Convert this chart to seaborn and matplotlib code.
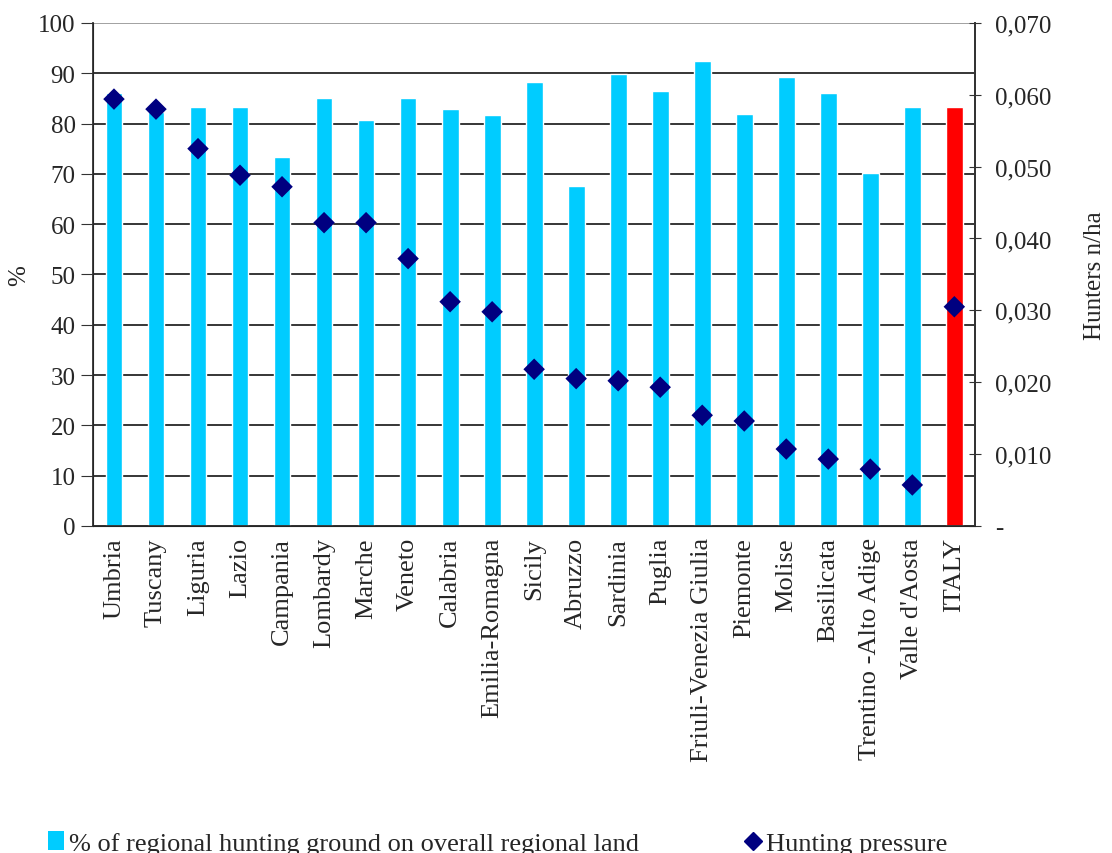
import numpy as np
import pandas as pd
import matplotlib
matplotlib.use('Agg')
import matplotlib.pyplot as plt
from matplotlib.lines import Line2D
from matplotlib.patches import Patch
import seaborn as sns

regions = ['Umbria', 'Tuscany', 'Liguria', 'Lazio', 'Campania', 'Lombardy', 'Marche',
           'Veneto', 'Calabria', 'Emilia-Romagna', 'Sicily', 'Abruzzo', 'Sardinia',
           'Puglia', 'Friuli-Venezia Giulia', 'Piemonte', 'Molise', 'Basilicata',
           'Trentino -Alto Adige', "Valle d'Aosta", 'ITALY']
ground_pct = [86.1, 82.3, 83.3, 83.3, 73.4, 85.1, 80.7, 85.1, 82.9, 81.7, 88.3,
              67.6, 89.9, 86.5, 92.4, 81.9, 89.3, 86.1, 70.2, 83.3, 83.3]
pressure = [0.0594, 0.0580, 0.0525, 0.0488, 0.0472, 0.0422, 0.0422, 0.0372, 0.0312,
            0.0298, 0.0218, 0.0205, 0.0202, 0.0193, 0.0154, 0.0146, 0.0107, 0.0093,
            0.0079, 0.0057, 0.0305]
right_ticks = [0, 0.01, 0.02, 0.03, 0.04, 0.05, 0.06, 0.07]
right_labels = ['-', '0,010', '0,020', '0,030', '0,040', '0,050', '0,060', '0,070']

df = pd.DataFrame({'region': regions, 'pct': ground_pct, 'hp': pressure})
colors = ['#00CCFF'] * (len(regions) - 1) + ['#FF0000']

sns.set_style('white')
plt.rcParams['font.family'] = ['Liberation Serif', 'DejaVu Serif']
plt.rcParams['font.size'] = 17

fig = plt.figure(figsize=(11.12, 8.54), dpi=100)
ax = fig.add_axes([0.0836, 0.383, 0.7935, 0.589])

ax.set_axisbelow(True)
ax.grid(axis='y', color='black', linewidth=1.1)
sns.barplot(data=df, x='region', y='pct', hue='region', palette=colors, legend=False,
            width=0.4, saturation=1, ax=ax)
ax.set_ylim(0, 100)
ax.set_yticks(np.arange(0, 101, 10))
ax.set_xlim(-0.5, len(regions) - 0.5)
ax.set_xlabel('')
ax.set_ylabel('%', fontsize=18, labelpad=6)
ax.tick_params(axis='x', which='major', length=0, labelrotation=90, labelsize=19, pad=8)
ax.set_xticks(np.arange(-0.5, len(regions)), minor=True)
ax.tick_params(axis='x', which='minor', length=8, color='#555555', direction='out')
ax.tick_params(axis='y', length=9, color='#333333', direction='out', labelsize=18)
ax.spines['top'].set_visible(False)
for s in ['left', 'bottom', 'right']:
    ax.spines[s].set_color('#333333')
    ax.spines[s].set_linewidth(1.3)
ax.get_ygridlines()[-1].set_color('#888888')

ax2 = ax.twinx()
sns.scatterplot(data=df, x='region', y='hp', marker='D', s=120, color='#000080',
                edgecolor='none', ax=ax2, zorder=5)
ax2.set_ylim(0, 0.07)
ax2.set_yticks(right_ticks)
ax2.set_yticklabels(right_labels)
ax2.set_ylabel('Hunters n/ha', fontsize=18, labelpad=24)
ax2.tick_params(axis='y', length=8, direction='inout', color='#333333', labelsize=18, pad=10)
ax2.spines['top'].set_visible(False)
ax2.spines['right'].set_color('#333333')
ax2.spines['right'].set_linewidth(1.3)
ax2.set_xlim(-0.5, len(regions) - 0.5)

handles = [Patch(facecolor='#00CCFF', edgecolor='none'),
           Line2D([], [], marker='D', color='#000080', linestyle='none', markersize=9)]
labels = ['% of regional hunting ground on overall regional land', 'Hunting pressure']
fig.legend(handles, labels, loc='lower left', bbox_to_anchor=(0.022, -0.03), ncol=2,
           frameon=False, fontsize=19, handlelength=0.6, handletextpad=0.2,
           columnspacing=4.0)

fig.savefig('out.png', dpi=100)
